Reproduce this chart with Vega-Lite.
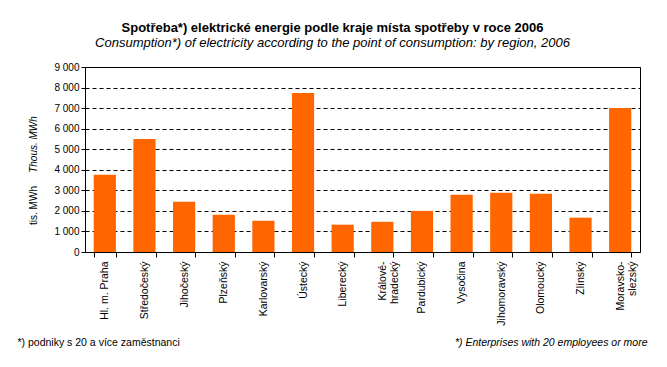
{
  "$schema": "https://vega.github.io/schema/vega-lite/v6.json",
  "width": 555,
  "height": 185,
  "autosize": {"type": "none"},
  "padding": {"left": 85, "top": 67, "right": 27, "bottom": 115},
  "background": "white",
  "config": {
    "font": "Liberation Sans",
    "view": {"stroke": "black", "strokeWidth": 1}
  },
  "title": {
    "text": "Spotřeba*) elektrické energie podle kraje místa spotřeby v roce 2006",
    "subtitle": "Consumption*) of electricity according to the point of consumption: by region, 2006",
    "fontSize": 13,
    "fontWeight": "bold",
    "color": "black",
    "subtitleFontSize": 13,
    "subtitleFontStyle": "italic",
    "subtitleColor": "black",
    "subtitlePadding": 2,
    "anchor": "middle",
    "frame": "group",
    "dx": -30,
    "offset": 12
  },
  "data": {
    "values": [
      {"kraj": "Hl. m. Praha", "spotreba": 3760},
      {"kraj": "Středočeský", "spotreba": 5500},
      {"kraj": "Jihočeský", "spotreba": 2440},
      {"kraj": "Plzeňský", "spotreba": 1810},
      {"kraj": "Karlovarský", "spotreba": 1520},
      {"kraj": "Ústecký", "spotreba": 7730},
      {"kraj": "Liberecký", "spotreba": 1330},
      {"kraj": "Královéhradecký", "spotreba": 1470},
      {"kraj": "Pardubický", "spotreba": 2000},
      {"kraj": "Vysočina", "spotreba": 2780},
      {"kraj": "Jihomoravský", "spotreba": 2880},
      {"kraj": "Olomoucký", "spotreba": 2830},
      {"kraj": "Zlínský", "spotreba": 1670},
      {"kraj": "Moravskoslezský", "spotreba": 7000}
    ]
  },
  "layer": [
    {
      "mark": {"type": "bar", "color": "#FF6600"},
      "encoding": {
        "x": {
          "field": "kraj",
          "type": "nominal",
          "sort": null,
          "scale": {"paddingInner": 0.44, "paddingOuter": 0.22},
          "axis": {
            "orient": "bottom",
            "labelAngle": 270,
            "labelAlign": "right",
            "labelBaseline": "middle",
            "labelFontSize": 10.5,
            "labelColor": "black",
            "labelPadding": 4,
            "labelLineHeight": 12,
            "labelExpr": "datum.value == 'Královéhradecký' ? ['Králové-', 'hradecký'] : datum.value == 'Moravskoslezský' ? ['Moravsko-', 'slezský'] : datum.value",
            "tickBand": "extent",
            "tickSize": 5,
            "tickColor": "black",
            "domainColor": "black",
            "title": "*) podniky s 20 a více zaměstnanci",
            "titleFontSize": 10.5,
            "titleFontWeight": "normal",
            "titleColor": "black",
            "titleAlign": "left",
            "titleAnchor": "start",
            "titleBaseline": "alphabetic",
            "titleX": -68,
            "titleY": 93
          }
        },
        "y": {
          "field": "spotreba",
          "type": "quantitative",
          "scale": {"domain": [0, 9000], "nice": false},
          "axis": {
            "orient": "left",
            "values": [0, 1000, 2000, 3000, 4000, 5000, 6000, 7000, 8000, 9000],
            "labelExpr": "replace(format(datum.value, ','), ',', ' ')",
            "labelFontSize": 10,
            "labelColor": "black",
            "labelPadding": 2,
            "tickSize": 4,
            "tickColor": "black",
            "domainColor": "black",
            "grid": true,
            "gridColor": "black",
            "gridDash": [4, 3],
            "gridOpacity": 1,
            "title": "tis. MWh",
            "titleFontSize": 10,
            "titleFontWeight": "normal",
            "titleColor": "black",
            "titleAngle": 270,
            "titleAlign": "center",
            "titleBaseline": "middle",
            "titleX": -52,
            "titleY": 138
          }
        }
      }
    },
    {
      "mark": {"type": "bar", "opacity": 0},
      "encoding": {
        "x": {
          "field": "kraj",
          "type": "nominal",
          "sort": null,
          "axis": {
            "orient": "bottom",
            "labels": false,
            "ticks": false,
            "domain": false,
            "grid": false,
            "title": "*)  Enterprises with 20 employees or more",
            "titleFontSize": 10.5,
            "titleFontWeight": "normal",
            "titleFontStyle": "italic",
            "titleColor": "black",
            "titleAlign": "right",
            "titleAnchor": "end",
            "titleBaseline": "alphabetic",
            "titleX": 562,
            "titleY": 93
          }
        },
        "y": {
          "field": "spotreba",
          "type": "quantitative",
          "axis": {
            "orient": "left",
            "labels": false,
            "ticks": false,
            "domain": false,
            "grid": false,
            "title": "Thous. MWh",
            "titleFontSize": 10,
            "titleFontWeight": "normal",
            "titleFontStyle": "italic",
            "titleColor": "black",
            "titleAngle": 270,
            "titleAlign": "center",
            "titleBaseline": "middle",
            "titleX": -52,
            "titleY": 77
          }
        }
      }
    }
  ],
  "resolve": {"axis": {"x": "independent", "y": "independent"}}
}
